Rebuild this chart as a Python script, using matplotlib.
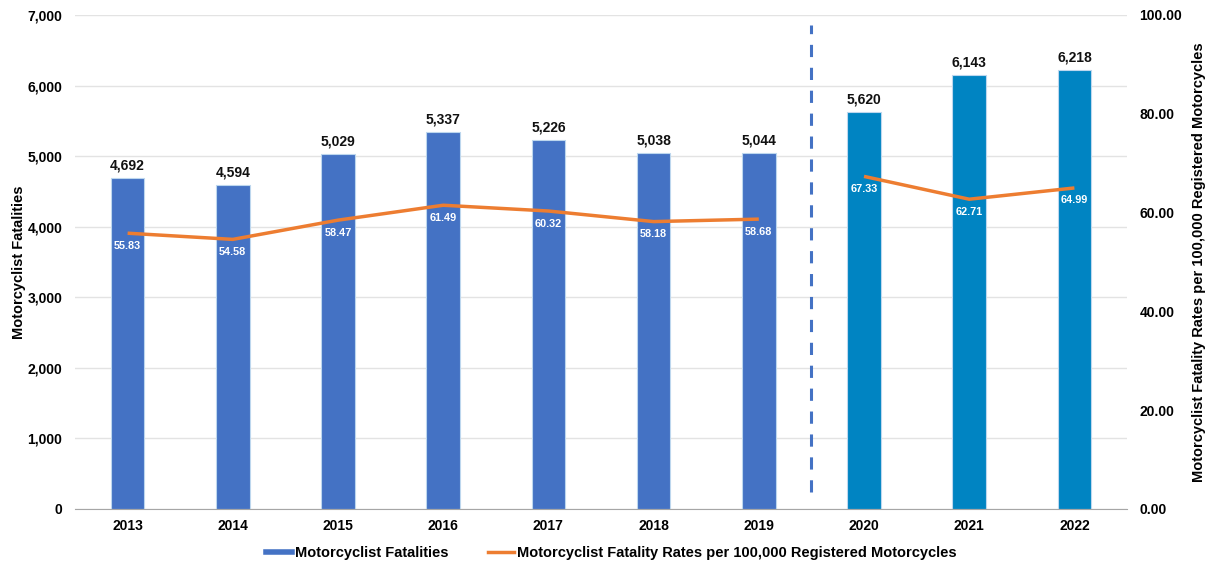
import matplotlib
matplotlib.use("Agg")
import matplotlib.pyplot as plt
import numpy as np
from matplotlib.ticker import FuncFormatter
from matplotlib.lines import Line2D

plt.rcParams['font.family'] = ['Liberation Sans', 'DejaVu Sans']

years = ["2013", "2014", "2015", "2016", "2017", "2018", "2019", "2020", "2021", "2022"]
fatalities = [4692, 4594, 5029, 5337, 5226, 5038, 5044, 5620, 6143, 6218]
rates = [55.83, 54.58, 58.47, 61.49, 60.32, 58.18, 58.68, 67.33, 62.71, 64.99]
split = 7  # first 7 years (2013-2019) vs 2020-2022

c_old = "#4472C4"
c_new = "#0084C2"
c_line = "#ED7D31"

fig = plt.figure(figsize=(12.1, 5.63), dpi=100)
ax = fig.add_axes([75/1210, 1 - 509/563, (1127-75)/1210, (509-15)/563])
ax2 = ax.twinx()

x = np.arange(len(years))
colors = [c_old if i < split else c_new for i in range(len(years))]
ax.bar(x, fatalities, width=0.32, color=colors, edgecolor="#BDD7EE", linewidth=0.8, zorder=2)
for xi, v in zip(x, fatalities):
    ax.annotate(f"{v:,}", (xi, v), xytext=(0, 4), textcoords="offset points",
                ha="center", va="bottom", fontsize=10, fontweight="bold", color="#111111")

ax.set_xlim(-0.5, len(years) - 0.5)
ax.set_ylim(0, 7000)
ax.set_yticks(np.arange(0, 7001, 1000))
ax.yaxis.set_major_formatter(FuncFormatter(lambda v, p: f"{int(v):,}"))
ax.grid(axis="y", color="#E3E3E3", linewidth=1, zorder=0)
ax.set_axisbelow(True)
ax.set_xticks(x)
ax.set_xticklabels(years)
for s in ["top", "left", "right"]:
    ax.spines[s].set_visible(False)
ax.spines["bottom"].set_color("#A6A6A6")
ax.tick_params(axis="both", length=0, labelsize=10)
ax.tick_params(axis="x", pad=7)
ax.tick_params(axis="y", pad=9)
for lab in ax.get_xticklabels() + ax.get_yticklabels():
    lab.set_fontweight("bold")
ax.set_ylabel("Motorcyclist Fatalities", fontsize=10.5, fontweight="bold", labelpad=1.5)

# rate line (two segments)
ax2.plot(x[:split], rates[:split], color=c_line, linewidth=2.5, zorder=3, solid_capstyle="butt")
ax2.plot(x[split:], rates[split:], color=c_line, linewidth=2.5, zorder=3, solid_capstyle="butt")
for xi, r in zip(x, rates):
    ax2.annotate(f"{r:.2f}", (xi, r), xytext=(0, -9), textcoords="offset points",
                 ha="center", va="center", fontsize=7.8, fontweight="bold", color="white")
ax2.set_ylim(0, 100)
ax2.set_yticks(np.arange(0, 101, 20))
ax2.yaxis.set_major_formatter(FuncFormatter(lambda v, p: f"{v:.2f}"))
for s in ["top", "left", "right", "bottom"]:
    ax2.spines[s].set_visible(False)
ax2.tick_params(axis="y", length=0, labelsize=10, pad=9)
for lab in ax2.get_yticklabels():
    lab.set_fontweight("bold")
ax2.set_ylabel("Motorcyclist Fatality Rates per 100,000 Registered Motorcycles",
               fontsize=10.5, fontweight="bold", labelpad=7)

# divider between 2019 and 2020
ax.axvline(split - 0.5, ymin=0.034, ymax=0.98, color=c_old, linestyle=(0, (4, 3.5)),
           linewidth=2.2, zorder=3)

handles = [Line2D([0], [0], color=c_old, linewidth=4),
           Line2D([0], [0], color=c_line, linewidth=2.5)]
fig.legend(handles, ["Motorcyclist Fatalities",
                     "Motorcyclist Fatality Rates per 100,000 Registered Motorcycles"],
           loc="center", bbox_to_anchor=(611/1210, 1 - 553/563), ncol=2, frameon=False,
           handlelength=1.8, handletextpad=0.2, columnspacing=2.7,
           prop={"weight": "bold", "size": 10.5})

fig.savefig("out.png", dpi=100)
